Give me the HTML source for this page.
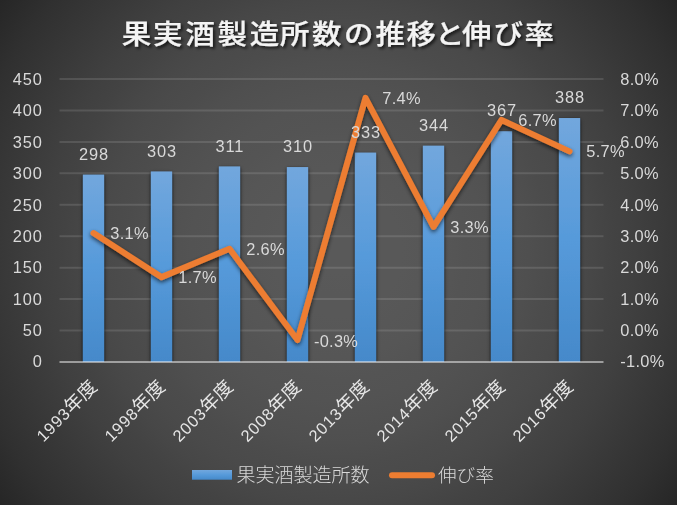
<!DOCTYPE html>
<html lang="ja"><head><meta charset="utf-8"><title>果実酒製造所数の推移と伸び率</title>
<style>
html,body{margin:0;padding:0;background:#262626;}
body{width:677px;height:505px;overflow:hidden;}
svg{display:block;}
text{font-family:"Liberation Sans","Noto Sans CJK JP",sans-serif;fill:#d9d9d9;}
.n{font-size:16.4px;letter-spacing:0.9px;}
.p{font-size:16.4px;letter-spacing:0.3px;}
.j{font-size:18.67px;font-weight:350;}
</style></head><body>
<svg width="677" height="505" viewBox="0 0 677 505">
<defs>
<radialGradient id="bg" gradientUnits="userSpaceOnUse" cx="338.5" cy="252.5" r="422.3">
<stop offset="0.00" stop-color="#595959"/><stop offset="0.05" stop-color="#595959"/><stop offset="0.10" stop-color="#585858"/><stop offset="0.15" stop-color="#585858"/><stop offset="0.20" stop-color="#575757"/><stop offset="0.25" stop-color="#565656"/><stop offset="0.30" stop-color="#545454"/><stop offset="0.35" stop-color="#535353"/><stop offset="0.40" stop-color="#515151"/><stop offset="0.45" stop-color="#4f4f4f"/><stop offset="0.50" stop-color="#4c4c4c"/><stop offset="0.55" stop-color="#4a4a4a"/><stop offset="0.60" stop-color="#474747"/><stop offset="0.65" stop-color="#434343"/><stop offset="0.70" stop-color="#404040"/><stop offset="0.75" stop-color="#3c3c3c"/><stop offset="0.80" stop-color="#383838"/><stop offset="0.85" stop-color="#343434"/><stop offset="0.90" stop-color="#303030"/><stop offset="0.95" stop-color="#2b2b2b"/><stop offset="1.00" stop-color="#262626"/>
</radialGradient>
<linearGradient id="bar" x1="0" y1="0" x2="0" y2="1">
<stop offset="0" stop-color="#72a7dd"/><stop offset="0.5" stop-color="#569ada"/><stop offset="1" stop-color="#4589ca"/>
</linearGradient>
<filter id="sh" x="-60%" y="-10%" width="220%" height="120%"><feGaussianBlur in="SourceAlpha" stdDeviation="2.6"/><feOffset dx="0" dy="2"/><feComponentTransfer result="w"><feFuncA type="linear" slope="0.45"/></feComponentTransfer><feGaussianBlur in="SourceAlpha" stdDeviation="0.9"/><feOffset dx="0.25" dy="0.5"/><feComponentTransfer result="t"><feFuncA type="linear" slope="0.85"/></feComponentTransfer><feMerge><feMergeNode in="w"/><feMergeNode in="t"/><feMergeNode in="SourceGraphic"/></feMerge></filter>
<clipPath id="cp"><rect x="0" y="0" width="677" height="362.0"/></clipPath>
<filter id="shl" x="-10%" y="-10%" width="120%" height="120%"><feGaussianBlur in="SourceAlpha" stdDeviation="2"/><feOffset dx="0" dy="1.5"/><feComponentTransfer><feFuncA type="linear" slope="0.63"/></feComponentTransfer><feMerge><feMergeNode/><feMergeNode in="SourceGraphic"/></feMerge></filter>
<filter id="sht" x="-5%" y="-30%" width="110%" height="170%"><feGaussianBlur in="SourceAlpha" stdDeviation="1.5"/><feOffset dx="1.5" dy="1.5"/><feComponentTransfer><feFuncA type="linear" slope="0.7"/></feComponentTransfer><feMerge><feMergeNode/><feMergeNode in="SourceGraphic"/></feMerge></filter>
</defs>
<rect width="677" height="505" fill="url(#bg)"/>

<text transform="scale(1.1 1)" x="110.64 139.05 168.59 197.68 227.05 254.59 283.73 312.73 341.36 369.55 395.45 420.00 448.73 476.82" y="44" style="font-size:26.8px;font-weight:500;fill:#f4f4f4;stroke:#f4f4f4;stroke-width:0.2px" filter="url(#sht)">果実酒製造所数の推移と伸び率</text>
<line x1="59.5" x2="603.5" y1="330.56" y2="330.56" stroke="#f2f2f2" stroke-opacity="0.13" stroke-width="2"/>
<line x1="59.5" x2="603.5" y1="299.12" y2="299.12" stroke="#f2f2f2" stroke-opacity="0.13" stroke-width="2"/>
<line x1="59.5" x2="603.5" y1="267.68" y2="267.68" stroke="#f2f2f2" stroke-opacity="0.13" stroke-width="2"/>
<line x1="59.5" x2="603.5" y1="236.24" y2="236.24" stroke="#f2f2f2" stroke-opacity="0.13" stroke-width="2"/>
<line x1="59.5" x2="603.5" y1="204.80" y2="204.80" stroke="#f2f2f2" stroke-opacity="0.13" stroke-width="2"/>
<line x1="59.5" x2="603.5" y1="173.36" y2="173.36" stroke="#f2f2f2" stroke-opacity="0.13" stroke-width="2"/>
<line x1="59.5" x2="603.5" y1="141.92" y2="141.92" stroke="#f2f2f2" stroke-opacity="0.13" stroke-width="2"/>
<line x1="59.5" x2="603.5" y1="110.48" y2="110.48" stroke="#f2f2f2" stroke-opacity="0.13" stroke-width="2"/>
<line x1="59.5" x2="603.5" y1="79.04" y2="79.04" stroke="#f2f2f2" stroke-opacity="0.13" stroke-width="2"/>
<g clip-path="url(#cp)"><g filter="url(#sh)">
<rect x="82.90" y="174.62" width="21.2" height="187.38" fill="url(#bar)"/>
<rect x="150.90" y="171.47" width="21.2" height="190.53" fill="url(#bar)"/>
<rect x="218.90" y="166.44" width="21.2" height="195.56" fill="url(#bar)"/>
<rect x="286.90" y="167.07" width="21.2" height="194.93" fill="url(#bar)"/>
<rect x="354.90" y="152.61" width="21.2" height="209.39" fill="url(#bar)"/>
<rect x="422.90" y="145.69" width="21.2" height="216.31" fill="url(#bar)"/>
<rect x="490.90" y="131.23" width="21.2" height="230.77" fill="url(#bar)"/>
<rect x="558.90" y="118.03" width="21.2" height="243.97" fill="url(#bar)"/>
</g></g>
<line x1="59.5" x2="603.5" y1="362.0" y2="362.0" stroke="#f2f2f2" stroke-opacity="0.52" stroke-width="2.2"/>
<text class="n" x="42.8" y="366.90" text-anchor="end">0</text>
<text class="n" x="42.8" y="336.26" text-anchor="end">50</text>
<text class="n" x="42.8" y="304.82" text-anchor="end">100</text>
<text class="n" x="42.8" y="273.38" text-anchor="end">150</text>
<text class="n" x="42.8" y="241.94" text-anchor="end">200</text>
<text class="n" x="42.8" y="210.50" text-anchor="end">250</text>
<text class="n" x="42.8" y="179.06" text-anchor="end">300</text>
<text class="n" x="42.8" y="147.62" text-anchor="end">350</text>
<text class="n" x="42.8" y="116.18" text-anchor="end">400</text>
<text class="n" x="42.8" y="84.74" text-anchor="end">450</text>
<text class="p" x="620.3" y="366.90">-1.0%</text>
<text class="p" x="620.3" y="336.26">0.0%</text>
<text class="p" x="620.3" y="304.82">1.0%</text>
<text class="p" x="620.3" y="273.38">2.0%</text>
<text class="p" x="620.3" y="241.94">3.0%</text>
<text class="p" x="620.3" y="210.50">4.0%</text>
<text class="p" x="620.3" y="179.06">5.0%</text>
<text class="p" x="620.3" y="147.62">6.0%</text>
<text class="p" x="620.3" y="116.18">7.0%</text>
<text class="p" x="620.3" y="84.74">8.0%</text>
<polyline filter="url(#shl)" fill="none" stroke="#ed7d31" stroke-width="6" stroke-linecap="round" stroke-linejoin="round" points="93.50,233.10 161.50,277.11 229.50,248.82 297.50,339.99 365.50,97.90 433.50,226.81 501.50,119.91 569.50,151.35"/>
<text class="n" x="93.95" y="159.82" text-anchor="middle">298</text>
<text class="n" x="161.95" y="156.67" text-anchor="middle">303</text>
<text class="n" x="229.95" y="151.64" text-anchor="middle">311</text>
<text class="n" x="297.95" y="152.27" text-anchor="middle">310</text>
<text class="n" x="365.95" y="137.81" text-anchor="middle">333</text>
<text class="n" x="433.95" y="130.89" text-anchor="middle">344</text>
<text class="n" x="501.95" y="116.43" text-anchor="middle">367</text>
<text class="n" x="569.95" y="103.23" text-anchor="middle">388</text>
<text class="p" x="110.30" y="239.00">3.1%</text>
<text class="p" x="178.30" y="283.01">1.7%</text>
<text class="p" x="246.30" y="254.72">2.6%</text>
<text class="p" x="313.90" y="346.89">-0.3%</text>
<text class="p" x="382.30" y="103.80">7.4%</text>
<text class="p" x="450.30" y="232.71">3.3%</text>
<text class="p" x="518.30" y="125.81">6.7%</text>
<text class="p" x="586.30" y="157.25">5.7%</text>
<text transform="translate(98.10 388.00) rotate(-45)" text-anchor="end" style="fill:#e6e6e6"><tspan class="n">1993</tspan><tspan class="j" style="font-weight:400">年度</tspan></text>
<text transform="translate(166.10 388.00) rotate(-45)" text-anchor="end" style="fill:#e6e6e6"><tspan class="n">1998</tspan><tspan class="j" style="font-weight:400">年度</tspan></text>
<text transform="translate(234.10 388.00) rotate(-45)" text-anchor="end" style="fill:#e6e6e6"><tspan class="n">2003</tspan><tspan class="j" style="font-weight:400">年度</tspan></text>
<text transform="translate(302.10 388.00) rotate(-45)" text-anchor="end" style="fill:#e6e6e6"><tspan class="n">2008</tspan><tspan class="j" style="font-weight:400">年度</tspan></text>
<text transform="translate(370.10 388.00) rotate(-45)" text-anchor="end" style="fill:#e6e6e6"><tspan class="n">2013</tspan><tspan class="j" style="font-weight:400">年度</tspan></text>
<text transform="translate(438.10 388.00) rotate(-45)" text-anchor="end" style="fill:#e6e6e6"><tspan class="n">2014</tspan><tspan class="j" style="font-weight:400">年度</tspan></text>
<text transform="translate(506.10 388.00) rotate(-45)" text-anchor="end" style="fill:#e6e6e6"><tspan class="n">2015</tspan><tspan class="j" style="font-weight:400">年度</tspan></text>
<text transform="translate(574.10 388.00) rotate(-45)" text-anchor="end" style="fill:#e6e6e6"><tspan class="n">2016</tspan><tspan class="j" style="font-weight:400">年度</tspan></text>
<rect x="192" y="470" width="40" height="9.7" fill="url(#bar)"/>
<text class="j" x="236.4" y="481.6" style="font-size:19.05px;font-weight:300">果実酒製造所数</text>
<line x1="392" x2="432" y1="475.2" y2="475.2" stroke="#ed7d31" stroke-width="6" stroke-linecap="round"/>
<text class="j" x="438" y="481.6" style="font-size:18.6px;font-weight:300">伸び率</text>
</svg></body></html>
